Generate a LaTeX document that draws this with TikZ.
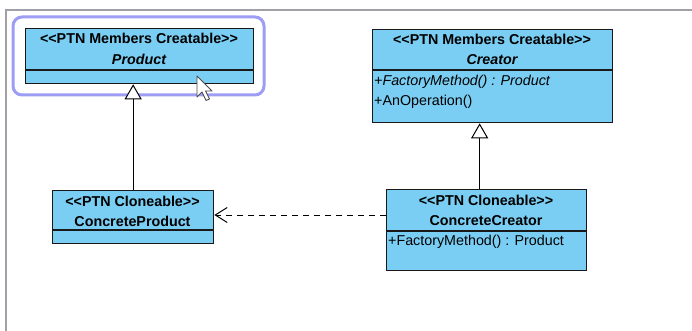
\documentclass[tikz,border=0pt]{standalone}
\usepackage{fontspec}
\setmainfont{Liberation Sans}
\usetikzlibrary{arrows.meta,calc}
\definecolor{clsfill}{RGB}{122,206,243}
\definecolor{hilite}{RGB}{157,157,245}
\definecolor{framec}{RGB}{160,160,168}
\tikzset{
  cls/.style={draw=black!90, line width=1.3pt, fill=clsfill, anchor=north west, inner sep=0pt},
  divider/.style={draw=black!90, line width=1.3pt},
  stereo/.style={font=\fontsize{14.3}{15}\selectfont\bfseries, inner sep=0pt},
  cname/.style={font=\fontsize{14.3}{15}\selectfont\bfseries, inner sep=0pt},
  aname/.style={font=\fontsize{14.3}{15}\selectfont\bfseries\itshape, inner sep=0pt},
  meth/.style={font=\fontsize{14.3}{15}\selectfont, inner sep=0pt, anchor=west},
  ameth/.style={font=\fontsize{14.3}{15}\selectfont\itshape, inner sep=0pt, anchor=west},
  inherit/.style={draw=black, line width=1pt, -{Triangle[open, width=17pt, length=15pt, fill=white]}},
  dep/.style={draw=black, line width=1pt, dash pattern=on 6pt off 5pt, -{Straight Barb[width=15pt, length=12pt]}},
}
\begin{document}
\begin{tikzpicture}[x=1pt, y=-1pt]
\useasboundingbox (0,0) rectangle (692,331);
% frame
\draw[framec, line width=1.5pt] (6,331) -- (6,10) -- (692,10);
% highlight
\draw[hilite, line width=3pt, rounded corners=9pt] (13,17) rectangle (264,95);
% Product
\node[cls, minimum width=228pt, minimum height=55pt] (product) at (25,28) {};
\draw[divider] (product.west |- 0,70) -- (product.east |- 0,70);
\node[stereo] (pst) at (139,38) {<{}<PTN Members Creatable>{}>};
\node[aname] (pnm) at (139,59) {Product};
% Creator
\node[cls, minimum width=240pt, minimum height=93pt] (creator) at (372,29) {};
\draw[divider] (creator.west |- 0,70) -- (creator.east |- 0,70);
\node[stereo] (cst) at (492,39) {<{}<PTN Members Creatable>{}>};
\node[aname] (cnm) at (492,60) {Creator};
\node[ameth] (cm1) at (374,82) {+FactoryMethod() : Product};
\node[meth] (cm2) at (374,102) {+AnOperation()};
% ConcreteProduct
\node[cls, minimum width=161pt, minimum height=53pt] (cproduct) at (52,190) {};
\draw[divider] (cproduct.west |- 0,230) -- (cproduct.east |- 0,230);
\node[stereo] (cpst) at (132.5,201) {<{}<PTN Cloneable>{}>};
\node[cname] (cpnm) at (132.5,221) {ConcreteProduct};
% ConcreteCreator
\node[cls, minimum width=200pt, minimum height=81pt] (ccreator) at (386,189) {};
\draw[divider] (ccreator.west |- 0,231) -- (ccreator.east |- 0,231);
\node[stereo] (ccst) at (486,200) {<{}<PTN Cloneable>{}>};
\node[cname] (ccnm) at (486,221) {ConcreteCreator};
\node[meth] (ccm1) at (388,242) {+FactoryMethod() : Product};
% connectors
\draw[inherit] (cproduct.north) -- (cproduct.north |- product.south);
\draw[inherit] ([xshift=-7pt]ccreator.north) -- ([xshift=-7pt]ccreator.north |- creator.south);
\draw[dep] (ccreator.west |- 0,215) -- (cproduct.east |- 0,215);
% mouse cursor
\draw[fill=white, draw=black!70, line width=0.9pt, line join=round]
  (197,76) -- (197,97) -- (202,92) -- (206,100.5) -- (209.5,99) -- (205.5,91) -- (212,91) -- cycle;
\end{tikzpicture}
\end{document}
